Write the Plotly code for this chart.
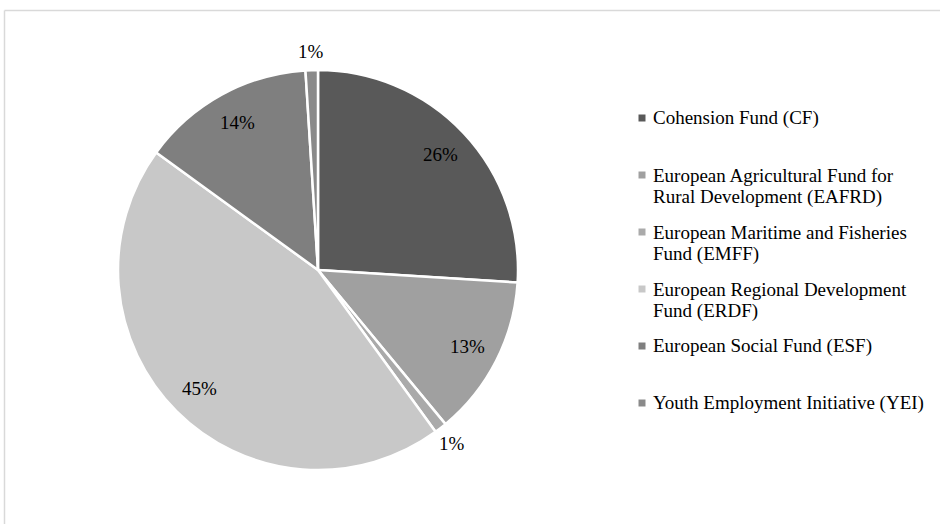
import math
import plotly.graph_objects as go

# ---- data ----
fund_labels = [
    "Cohension Fund (CF)",
    "European Agricultural Fund for\nRural Development (EAFRD)",
    "European Maritime and Fisheries\nFund (EMFF)",
    "European Regional Development\nFund (ERDF)",
    "European Social Fund (ESF)",
    "Youth Employment Initiative (YEI)",
]
shares = [26, 13, 1, 45, 14, 1]
slice_colors = ["#595959", "#a0a0a0", "#aaaaaa", "#c8c8c8", "#7f7f7f", "#8a8a8a"]
outside_label = [False, False, True, False, False, True]

W, H = 940, 524
FONT = "Liberation Serif, Times New Roman, serif"

def px(x):
    return x / W

def py(y):
    return 1 - y / H

# pie geometry (pixels)
cx, cy, R = 318, 270, 200

fig = go.Figure()
fig.add_trace(go.Pie(
    labels=[l.replace("\n", " ") for l in fund_labels],
    values=shares,
    sort=False,
    direction="clockwise",
    rotation=0,
    marker=dict(colors=slice_colors, line=dict(color="white", width=2.5)),
    textinfo="none",
    hoverinfo="label+percent",
    showlegend=False,
    domain=dict(x=[px(cx - R), px(cx + R)], y=[py(cy + R), py(cy - R)]),
))

annotations = []
total = sum(shares)
cum = 0.0
for v, out in zip(shares, outside_label):
    mid = (cum + v / 2) / total * 2 * math.pi
    cum += v
    f = 1.095 if out else 0.84
    x = cx + math.sin(mid) * R * f
    y = cy - math.cos(mid) * R * f
    annotations.append(dict(
        x=px(x), y=py(y), xref="paper", yref="paper",
        text=f"{round(v / total * 100)}%", showarrow=False,
        font=dict(family=FONT, size=19, color="#000000"),
        xanchor="center", yanchor="middle",
    ))

# legend drawn manually (fixed slot height like the original)
shapes = []
leg_x_marker = 642
leg_x_text = 651
first_y = 118
slot = 57
line_h = 22
for i, (lab, col) in enumerate(zip(fund_labels, slice_colors)):
    y0 = first_y + slot * i
    shapes.append(dict(
        type="rect", xref="paper", yref="paper",
        x0=px(leg_x_marker - 3.5), x1=px(leg_x_marker + 3.5),
        y0=py(y0 + 3.5), y1=py(y0 - 3.5),
        fillcolor=col, line=dict(width=0),
    ))
    for j, line in enumerate(lab.split("\n")):
        annotations.append(dict(
            x=px(leg_x_text), y=py(y0 + j * line_h), xref="paper", yref="paper",
            text=line, showarrow=False,
            font=dict(family=FONT, size=19, color="#000000"),
            xanchor="left", yanchor="middle",
        ))

# light frame (top and left edges)
shapes.append(dict(type="line", xref="paper", yref="paper",
                   x0=px(4.5), x1=1.0, y0=py(10.5), y1=py(10.5),
                   line=dict(color="#d9d9d9", width=1.5)))
shapes.append(dict(type="line", xref="paper", yref="paper",
                   x0=px(4.5), x1=px(4.5), y0=py(10.5), y1=0.0,
                   line=dict(color="#d9d9d9", width=1.5)))

fig.update_layout(
    width=W, height=H,
    margin=dict(l=0, r=0, t=0, b=0),
    paper_bgcolor="white",
    plot_bgcolor="white",
    annotations=annotations,
    shapes=shapes,
    showlegend=False,
)

fig.write_html("out.html")
